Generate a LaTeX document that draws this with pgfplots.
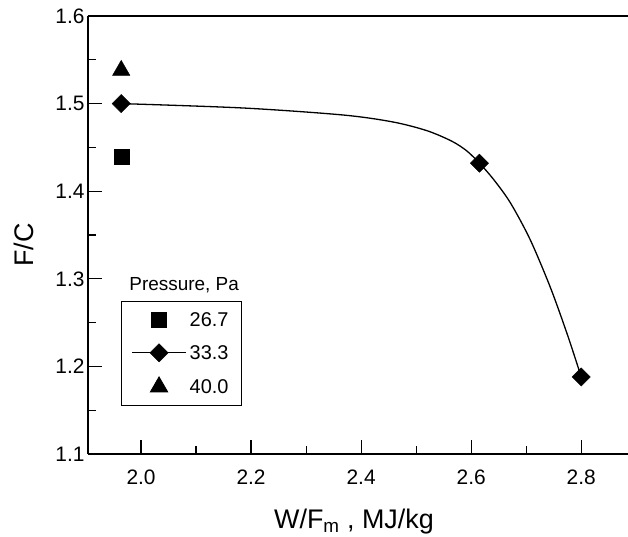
\documentclass[border=0pt]{standalone}
\usepackage{fontspec}
\setmainfont{Liberation Sans}
\usepackage{pgfplots}
\pgfplotsset{compat=1.18}
\pgfplotsset{
    markleg/.style={legend image code/.code={\draw[##1] plot coordinates {(27bp,0bp)};}},
    lineleg/.style={legend image code/.code={\draw[##1, mark indices={2}] plot coordinates {(0bp,0bp) (27bp,0bp) (54bp,0bp)};}},
}

\begin{document}
\begin{tikzpicture}
\begin{axis}[
    scale only axis,
    width=540bp, height=438bp,
    xmin=1.9036, xmax=2.885,
    ymin=1.1, ymax=1.6,
    axis x line=box, axis y line*=left,
    xtick pos=bottom,
    xtick={2.0,2.2,2.4,2.6,2.8},
    minor xtick={2.1,2.3,2.5,2.7},
    ytick={1.1,1.2,1.3,1.4,1.5,1.6},
    minor ytick={1.15,1.25,1.35,1.45,1.55},
    tick align=inside,
    major tick length=14bp, minor tick length=8bp,
    tick style={black, line width=1.2bp},
    axis line style={line width=1.4bp},
    tick label style={font=\fontsize{21}{25}\selectfont},
    xticklabel style={yshift=-12bp},
    /pgf/number format/fixed,
    /pgf/number format/fixed zerofill,
    /pgf/number format/precision=1,
    /pgf/number format/assume math mode=true,
    xlabel={W/F\textsubscript{m} , MJ/kg},
    ylabel={F/C},
    every axis x label/.style={at={(rel axis cs:0.4926,-0.171)}, anchor=base,
        font=\fontsize{27}{32}\selectfont},
    every axis y label/.style={at={(rel axis cs:-0.1185,0.477)}, anchor=center,
        rotate=90, font=\fontsize{27}{32}\selectfont},
    legend style={at={(rel axis cs:0.0611,0.1096)}, anchor=south west,
        draw=black, line width=0.8bp, inner xsep=10bp, inner ysep=10bp,
        row sep=15bp, font=\fontsize{20}{24}\selectfont,
        nodes={inner xsep=3bp, inner ysep=1bp}},
    legend cell align=left,
]
% 26.7 Pa
\addplot[only marks, mark=square*, mark size=7.5bp, black, markleg]
    coordinates {(1.964,1.439)};
\addlegendentry{26.7}
\addplot[black, line width=1.3bp, smooth, mark=square*, mark size=6.4bp,
    mark options={rotate=45, line width=0.5bp}, mark indices={1,8,14}, lineleg]
    coordinates {
    (1.964,1.500) (2.185,1.495) (2.367,1.487) (2.458,1.479) (2.520,1.469)
    (2.565,1.457) (2.592,1.446) (2.615,1.432) (2.640,1.414) (2.671,1.387)
    (2.707,1.345) (2.744,1.290) (2.775,1.236) (2.800,1.188)
    };
\addlegendentry{33.3}
% 40.0 Pa
\addplot[only marks, mark=triangle*, mark size=10bp, black, markleg]
    coordinates {(1.964,1.538)};
\addlegendentry{40.0}
\node[font=\fontsize{19}{23}\selectfont] at (rel axis cs:0.178,0.386) {Pressure, Pa};
\end{axis}
\pgfresetboundingbox
\path (current axis.south west) ++(-88bp,-83bp) rectangle ++(628bp,537bp);
\end{tikzpicture}
\end{document}
